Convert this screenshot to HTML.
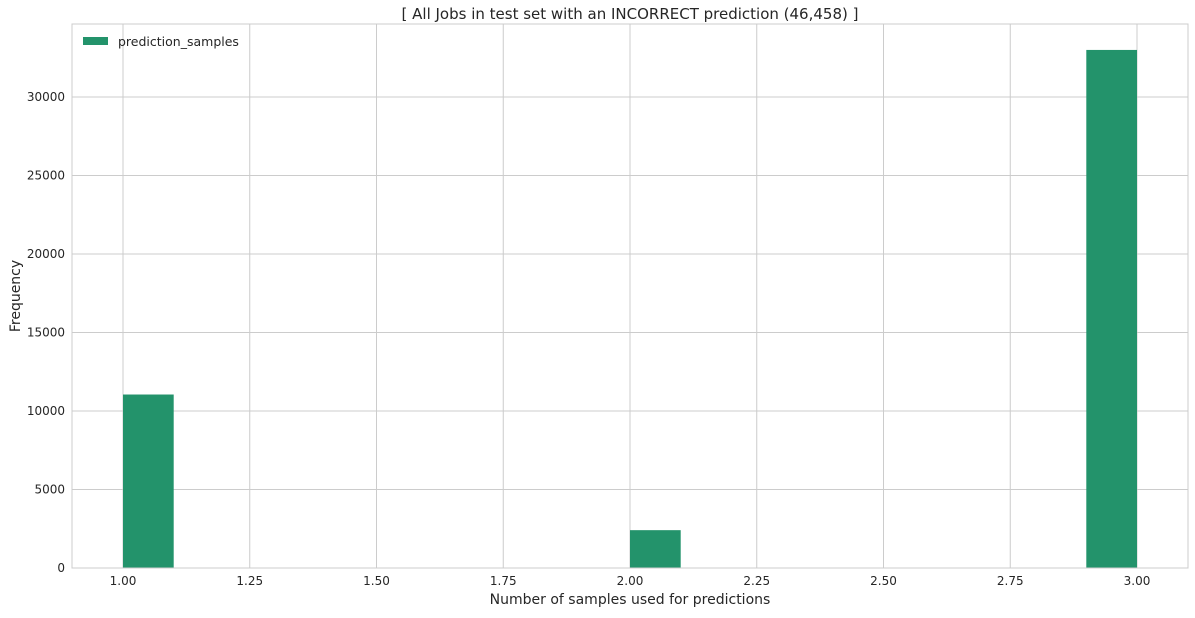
<!DOCTYPE html>
<html><head><meta charset="utf-8"><style>
body{margin:0;background:#fff;}
svg text{font-family:"DejaVu Sans","Liberation Sans",sans-serif;fill:#262626;}
</style></head><body>
<svg id="chart" width="1195" height="613">
<text x="630" y="19" font-size="15" text-anchor="middle">[ All Jobs in test set with an INCORRECT prediction (46,458) ]</text>
<g id="grid"></g>
<g id="bars"></g>
<rect x="72" y="24" width="1116" height="544" fill="none" stroke="#cccccc"/>
<g id="ticks"></g>
<text x="630" y="604" font-size="14" text-anchor="middle">Number of samples used for predictions</text>
<text x="20" y="296" font-size="14" text-anchor="middle" transform="rotate(-90 20 296)">Frequency</text>
<g>
<rect x="83" y="37" width="25" height="8" fill="#23936b"/>
<text x="118" y="46" font-size="12.5">prediction_samples</text>
</g>
</svg>
<script>
const binStarts=[1.0,2.0,2.9];
const binCounts=[11050,2410,32998];
const binWidth=0.1;
const xTicks=[1.00,1.25,1.50,1.75,2.00,2.25,2.50,2.75,3.00];
const yTicks=[0,5000,10000,15000,20000,25000,30000];
const NS="http://www.w3.org/2000/svg";
const xs=v=>123+(v-1)*507;
const ys=v=>568-v*0.0157;
const grid=document.getElementById('grid'),bars=document.getElementById('bars'),ticks=document.getElementById('ticks');
function mk(t,a,p){const e=document.createElementNS(NS,t);for(const k in a)e.setAttribute(k,a[k]);p.appendChild(e);return e;}
xTicks.forEach(v=>{
 const l=mk('line',{x1:xs(v),x2:xs(v),y1:24,y2:568,stroke:'#cccccc'},grid);
 
 
 const t=mk('text',{x:xs(v),y:585,'font-size':12,'text-anchor':'middle'},ticks);
 t.textContent=v.toFixed(2);
 
 
});
yTicks.forEach(v=>{
 const l=mk('line',{x1:72,x2:1188,y1:ys(v),y2:ys(v),stroke:'#cccccc'},grid);
 
 
 const t=mk('text',{x:65,y:ys(v)+4,'font-size':12,'text-anchor':'end'},ticks);
 t.textContent=v;
 
 
});
binStarts.forEach((s,i)=>{
 const r=mk('rect',{x:xs(s),y:ys(binCounts[i]),width:xs(s+binWidth)-xs(s),height:568-ys(binCounts[i]),fill:'#23936b'},bars);
 
 
});
</script>
</body></html>
